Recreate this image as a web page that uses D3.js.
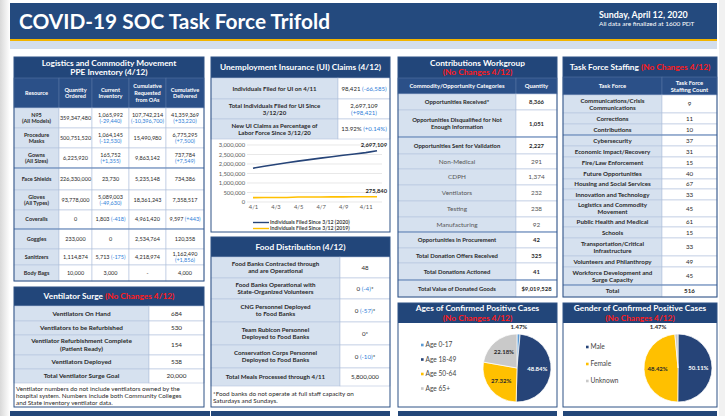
<!DOCTYPE html>
<html>
<head>
<meta charset="utf-8">
<script src="https://cdn.jsdelivr.net/npm/d3@7"></script>
<style>
  html, body { margin: 0; padding: 0; background: #fff; }
  svg { display: block; font-family: "Lato", "Open Sans", sans-serif; }
  text { white-space: pre; }
</style>
</head>
<body>
<svg id="board" width="725" height="416"></svg>
<script>
// ---- data ----
var ppeColumns = ["Resource", "Quantity\nOrdered", "Current\nInventory", "Cumulative\nRequested\nfrom OAs", "Cumulative\nDelivered"];
var ppeResources = ["N95\n(All Models)", "Procedure\nMasks", "Gowns\n(All Sizes)", "Face Shields", "Gloves\n(All Types)", "Coveralls", "Goggles", "Sanitizers", "Body Bags"];
var ppeOrdered = ["359,347,480", "500,751,520", "6,225,920", "226,330,000", "93,778,000", "0", "233,000", "1,114,874", "10,000"];
var ppeInventory = ["1,065,992", "1,064,145", "165,752", "23,730", "5,089,003", "1,803", "0", "5,713", "3,000"];
var ppeInventoryChange = ["(-29,440)", "(-12,530)", "(+1,355)", "", "(-49,630)", "(-418)", "", "(-175)", ""];
var ppeRequested = ["107,742,214", "15,490,980", "9,863,142", "5,235,148", "18,361,243", "4,961,420", "2,534,764", "4,218,974", "-"];
var ppeRequestedChange = ["(-10,396,700)", "", "", "", "", "", "", "", ""];
var ppeDelivered = ["41,359,369", "6,775,295", "737,784", "734,386", "7,358,517", "9,597", "120,358", "1,162,490", "4,000"];
var ppeDeliveredChange = ["(+33,220)", "(+7,500)", "(+7,549)", "", "", "(+443)", "", "(+1,856)", ""];

var ventLabels = ["Ventilators On Hand", "Ventilators to be Refurbished", "Ventilator Refurbishment Complete\n(Patient Ready)", "Ventilators Deployed", "Total Ventilator Surge Goal"];
var ventValues = ["684", "530", "154", "538", "20,000"];
var ventNote = ["Ventilator numbers do not include ventilators owned by the", "hospital system. Numbers include both Community Colleges", "and State inventory ventilator data."];

var uiLabels = ["Individuals Filed for UI on 4/11", "Total Individuals Filed for UI Since\n3/12/20", "New UI Claims as Percentage of\nLabor Force Since 3/12/20"];
var uiValues = ["98,421", "2,697,109", "13.92%"];
var uiChanges = ["(-66,585)", "(+98,421)", "(+0.14%)"];

var claimDays = ["4/1", "4/2", "4/3", "4/4", "4/5", "4/6", "4/7", "4/8", "4/9", "4/10", "4/11", "4/12"];
var claimTicks = ["4/1", "4/3", "4/5", "4/7", "4/9", "4/11"];
var claims2020 = [1780000, 1880000, 1975000, 2065000, 2150000, 2230000, 2310000, 2385000, 2460000, 2530000, 2598688, 2697109];
var claims2019 = [232000, 234000, 236000, 238000, 262000, 265000, 267000, 269000, 271000, 273000, 274500, 275840];
var claimSeries = ["Individuals Filed Since 3/12 (2020)", "Individuals Filed Since 3/12 (2019)"];
var claimAxis = [0, 500000, 1000000, 1500000, 2000000, 2500000, 3000000];

var foodLabels = ["Food Banks Contracted through\nand are Operational", "Food Banks Operational with\nState-Organized Volunteers", "CNG Personnel Deployed\nto Food Banks", "Team Rubicon Personnel\nDeployed to Food Banks", "Conservation Corps Personnel\nDeployed to Food Banks", "Total Meals Processed through 4/11"];
var foodValues = ["48", "0", "0", "0*", "0", "5,800,000"];
var foodChanges = ["", "(-4)", "(-57)", "", "(-10)", ""];
var foodNote = ["*Food banks do not operate at full staff capacity on", "Saturdays and Sundays."];

var contribCategories = ["Opportunities Received*", "Opportunities Disqualified for Not\nEnough Information", "Opportunities Sent for Validation", "Non-Medical", "CDPH", "Ventilators", "Testing", "Manufacturing", "Opportunities in Procurement", "Total Donation Offers Received", "Total Donations Actioned", "Total Value of Donated Goods"];
var contribQuantities = ["8,366", "1,051", "2,227", "291", "1,374", "232", "238", "92", "42", "325", "41", "$9,019,528"];

var taskForces = ["Communications/Crisis\nCommunications", "Corrections", "Contributions", "Cybersecurity", "Economic Impact/Recovery", "Fire/Law Enforcement", "Future Opportunities", "Housing and Social Services", "Innovation and Technology", "Logistics and Commodity\nMovement", "Public Health and Medical", "Schools", "Transportation/Critical\nInfrastructure", "Volunteers and Philanthropy", "Workforce Development and\nSurge Capacity", "Total"];
var staffCounts = ["9", "11", "10", "37", "31", "15", "40", "67", "33", "45", "61", "15", "33", "49", "45", "516"];

var ageGroups = ["Age 0-17", "Age 18-49", "Age 50-64", "Age 65+"];
var agePercents = [1.47, 48.84, 27.32, 22.18];
var genders = ["Male", "Female", "Unknown"];
var genderPercents = [50.11, 48.42, 1.47];

// ---- style ----
var NAVY = "#22467a", HEADROW = "#2b5088", LIGHT = "#d6e1ef", GRID = "#b4c4dc", SEP = "#5d80b3",
    INK = "#2a2a2a", CHG = "#2f80d8", RED = "#ff1a1a", GOLD = "#ffc000", DARKPIE = "#264478";
var TITLE = 8.3;

var svg = d3.select("#board");

// page shading and header
var defs = svg.append("defs");
var sh = defs.append("linearGradient").attr("id", "shadeL");
sh.append("stop").attr("offset", 0).attr("stop-color", "#d9d9d9");
sh.append("stop").attr("offset", 1).attr("stop-color", "#ffffff");
svg.append("rect").attr("x", 0).attr("y", 0).attr("width", 10).attr("height", 416).attr("fill", "url(#shadeL)");
svg.append("rect").attr("x", 719).attr("y", 0).attr("width", 6).attr("height", 416).attr("fill", "#f1f1f1");

svg.append("rect").attr("x", 10).attr("y", 3).attr("width", 707).attr("height", 36).attr("fill", "#244a7e");
svg.append("rect").attr("x", 10).attr("y", 39).attr("width", 707).attr("height", 2).attr("fill", "#f2b400");
svg.append("rect").attr("x", 10).attr("y", 41).attr("width", 707).attr("height", 8).attr("fill", "#d3deec");
svg.append("text").attr("x", 19).attr("y", 29).attr("fill", "#fff").attr("font-size", 20).attr("font-weight", "bold")
  .attr("textLength", 311).attr("lengthAdjust", "spacingAndGlyphs").text("COVID-19 SOC Task Force Trifold");
svg.append("text").attr("x", 599).attr("y", 18).attr("fill", "#fff").attr("font-size", 8.9).attr("font-weight", "bold")
  .text("Sunday, April 12, 2020");
svg.append("text").attr("x", 599).attr("y", 25.5).attr("fill", "#fff").attr("font-size", 6.5)
  .text("All data are finalized at 1600 PDT");

// ---- helpers ----
function cellLines(str, color) {
  return str.split("\n").map(function (s) { return [[s, color || INK]]; });
}
function valueLines(v, c, stack) {
  if (!c) return [[[v, INK]]];
  return stack ? [[[v, INK]], [[c, CHG]]] : [[[v + " ", INK], [c, CHG]]];
}
function writeLines(g, lines, cx, cy, size, weight, anchor) {
  var lh = size * 1.2, n = lines.length;
  lines.forEach(function (pieces, k) {
    var t = g.append("text")
      .attr("x", cx)
      .attr("y", cy + (k - (n - 1) / 2) * lh + size * 0.36)
      .attr("text-anchor", anchor || "middle")
      .attr("font-size", size)
      .attr("font-weight", weight || "normal");
    pieces.forEach(function (p) { t.append("tspan").attr("fill", p[1]).text(p[0]); });
  });
}
function drawTable(g, edges, top, heights, rows, seps, size) {
  var tops = [top].concat(Array.from(d3.cumsum(heights), function (h) { return top + h; }));
  g.selectAll(null).data(rows).enter().append("g").each(function (row, r) {
    var rg = d3.select(this);
    rg.selectAll("rect").data(row).enter().append("rect")
      .attr("x", function (c, i) { return edges[i]; })
      .attr("y", tops[r])
      .attr("width", function (c, i) { return edges[i + 1] - edges[i]; })
      .attr("height", heights[r])
      .attr("fill", function (c) { return c.fill; })
      .attr("stroke", function (c) { return c.stroke || GRID; })
      .attr("stroke-width", 0.6);
    row.forEach(function (c, i) {
      writeLines(rg, c.lines, (edges[i] + edges[i + 1]) / 2, tops[r] + heights[r] / 2, c.size || size, c.weight, null);
    });
  });
  g.selectAll(null).data(seps || []).enter().append("line")
    .attr("x1", edges[0]).attr("x2", edges[edges.length - 1])
    .attr("y1", function (r) { return tops[r + 1]; }).attr("y2", function (r) { return tops[r + 1]; })
    .attr("stroke", SEP).attr("stroke-width", 1.2);
  return tops[tops.length - 1];
}
function titleBar(g, x0, x1, y0, y1, lines) {
  g.append("rect").attr("x", x0).attr("y", y0).attr("width", x1 - x0).attr("height", y1 - y0).attr("fill", NAVY);
  writeLines(g, lines, (x0 + x1) / 2, (y0 + y1) / 2, TITLE, "bold", null);
}
function frame(g, x0, x1, y0, y1) {
  g.append("rect").attr("x", x0).attr("y", y0).attr("width", x1 - x0).attr("height", y1 - y0)
    .attr("fill", "none").attr("stroke", "#2f5286").attr("stroke-width", 1);
}
function headCell(s) { return { lines: cellLines(s, "#fff"), fill: HEADROW, weight: "bold", stroke: "#5574a3" }; }
function labelCell(s, weight) { return { lines: cellLines(s), fill: LIGHT, weight: weight || "bold" }; }
function valueCell(v, c, stack, weight) { return { lines: valueLines(v, c, stack), fill: "#fff", weight: weight }; }
function noteLines(g, lines, x, y0) {
  lines.forEach(function (s, i) {
    g.append("text").attr("x", x).attr("y", y0 + i * 7.2).attr("font-size", 6.3).attr("fill", INK).text(s);
  });
}
var inline = function (v, c) { return (v + " " + c).length <= 12; };

// ---- Logistics & PPE ----
var gA = svg.append("g");
titleBar(gA, 14, 204, 57, 78, [[["Logistics and Commodity Movement", "#fff"]], [["PPE Inventory (4/12)", "#fff"]]]);
var ppeEdges = [14, 59, 92, 129, 166, 204];
drawTable(gA, ppeEdges, 78, [30], [ppeColumns.map(headCell)], [], 5.6);
var ppeRows = ppeResources.map(function (res, r) {
  return [
    labelCell(res),
    valueCell(ppeOrdered[r]),
    valueCell(ppeInventory[r], ppeInventoryChange[r], !inline(ppeInventory[r], ppeInventoryChange[r])),
    valueCell(ppeRequested[r], ppeRequestedChange[r], !inline(ppeRequested[r], ppeRequestedChange[r])),
    valueCell(ppeDelivered[r], ppeDeliveredChange[r], !inline(ppeDelivered[r], ppeDeliveredChange[r]))
  ];
});
drawTable(gA, ppeEdges, 108, [20, 20, 20, 22, 20, 19, 20, 16, 16], ppeRows, [2, 5], 5.5);
frame(gA, 14, 204, 57, 281);

// ---- Ventilator surge ----
var gV = svg.append("g");
titleBar(gV, 14, 204, 287, 306, [[["Ventilator Surge ", "#fff"], ["(No Changes 4/12)", RED]]]);
drawTable(gV, [14, 149, 204], 306, [15, 14, 20, 14, 14], ventLabels.map(function (l, i) {
  return [labelCell(l), valueCell(ventValues[i])];
}), [], 6.4);
noteLines(gV, ventNote, 16, 391);
frame(gV, 14, 204, 287, 407);

// ---- UI claims ----
var gU = svg.append("g");
titleBar(gU, 211, 390, 57, 78, [[["Unemployment Insurance (UI) Claims (4/12)", "#fff"]]]);
var uiStack = [false, true, false];
drawTable(gU, [211, 338, 390], 78, [21, 20, 20], uiLabels.map(function (l, i) {
  return [labelCell(l), valueCell(uiValues[i], uiChanges[i], uiStack[i])];
}), [], 6.1);

var xDay = d3.scalePoint().domain(claimDays).range([253, 377]);
var yClaims = d3.scaleLinear().domain([0, 3000000]).range([202, 145]);

gU.append("g").selectAll("line").data(claimAxis).enter().append("line")
  .attr("x1", 247).attr("x2", 382)
  .attr("y1", function (d) { return yClaims(d); }).attr("y2", function (d) { return yClaims(d); })
  .attr("stroke", "#d9d9d9").attr("stroke-width", 0.6);

var yAxisG = gU.append("g").attr("transform", "translate(246,0)")
  .call(d3.axisLeft(yClaims).tickValues(claimAxis).tickSize(0).tickPadding(1).tickFormat(d3.format(",")));
yAxisG.select(".domain").remove();
yAxisG.selectAll("text").attr("font-size", 5.8).attr("fill", "#595959").attr("font-family", "Lato, sans-serif");

var xAxisG = gU.append("g").attr("transform", "translate(0,205)")
  .call(d3.axisBottom(xDay).tickValues(claimTicks).tickSize(0).tickPadding(0));
xAxisG.select(".domain").remove();
xAxisG.selectAll("text").attr("font-size", 5.8).attr("fill", "#595959").attr("font-family", "Lato, sans-serif");

var claimLine = d3.line().x(function (d, i) { return xDay(claimDays[i]); }).y(function (d) { return yClaims(d); });
var seriesColors = [DARKPIE, GOLD];
[claims2020, claims2019].forEach(function (s, k) {
  gU.append("path").datum(s).attr("d", claimLine).attr("fill", "none")
    .attr("stroke", seriesColors[k]).attr("stroke-width", 1.6);
  gU.append("text")
    .attr("x", xDay(claimDays[claimDays.length - 1]) + 10)
    .attr("y", yClaims(s[s.length - 1]) - 4)
    .attr("text-anchor", "end").attr("font-size", 5.8).attr("font-weight", "bold").attr("fill", INK)
    .text(d3.format(",")(s[s.length - 1]));
});
claimSeries.forEach(function (name, k) {
  var ly = 222.5 + k * 6;
  gU.append("line").attr("x1", 253).attr("x2", 269).attr("y1", ly).attr("y2", ly)
    .attr("stroke", seriesColors[k]).attr("stroke-width", 1.4);
  gU.append("text").attr("x", 270).attr("y", ly + 1.8).attr("font-size", 5.2).attr("font-weight", "bold")
    .attr("fill", "#404040").text(name);
});
frame(gU, 211, 390, 57, 232);

// ---- Food distribution ----
var gF = svg.append("g");
titleBar(gF, 211, 390, 237, 257, [[["Food Distribution (4/12)", "#fff"]]]);
drawTable(gF, [211, 340, 390], 257, [21, 21, 23, 23, 23, 18], foodLabels.map(function (l, i) {
  var cell = valueCell(foodValues[i], foodChanges[i], false);
  if (foodChanges[i]) cell.lines[0].push(["*", INK]);
  return [labelCell(l), cell];
}), [], 6.2);
noteLines(gF, foodNote, 213, 396);
frame(gF, 211, 390, 237, 407);

// ---- Contributions ----
var gC = svg.append("g");
titleBar(gC, 398, 557, 57, 78, [[["Contributions Workgroup", "#fff"]], [["(No Changes 4/12)", RED]]]);
var cEdges = [398, 516, 557];
drawTable(gC, cEdges, 78, [16], [[headCell("Commodity/Opportunity Categories"), headCell("Quantity")]], [], 5.9);
var subRows = [3, 4, 5, 6, 7];
drawTable(gC, cEdges, 94, [16, 27, 17, 15, 16, 16, 16, 15, 16, 15, 17, 17], contribCategories.map(function (l, i) {
  var sub = subRows.indexOf(i) >= 0;
  var lab = { lines: cellLines(l, sub ? "#555" : INK), fill: LIGHT, weight: sub ? "normal" : "bold", size: sub ? 6.4 : null };
  var val = { lines: cellLines(contribQuantities[i], sub ? "#555" : INK), fill: "#fff", weight: sub ? "normal" : "bold", size: sub ? 6.4 : null };
  return [lab, val];
}), [1, 7, 10], 5.9);
frame(gC, 398, 557, 57, 297);

// ---- Task force staffing ----
var gT = svg.append("g");
titleBar(gT, 563, 717, 57, 77, [[["Task Force Staffing ", "#fff"], ["(No Changes 4/12)", RED]]]);
var tEdges = [563, 662, 717];
drawTable(gT, tEdges, 77, [18], [[headCell("Task Force"), headCell("Task Force\nStaffing Count")]], [], 5.9);
var lastRow = taskForces.length - 1;
drawTable(gT, tEdges, 95, [18, 11, 11, 11, 11, 11, 11, 10, 11, 17, 10, 11, 18, 11, 18, 12], taskForces.map(function (l, i) {
  return [labelCell(l), valueCell(staffCounts[i], "", false, i === lastRow ? "bold" : "normal")];
}), [2, 14], 6.2);
frame(gT, 563, 717, 57, 297);

// ---- pies ----
function piePanel(x0, x1, title, names, values, colors, legend, center, outDx) {
  var g = svg.append("g");
  g.append("rect").attr("x", x0).attr("y", 303).attr("width", x1 - x0).attr("height", 104).attr("fill", "#fff");
  titleBar(g, x0, x1, 303, 323, [[[title, "#fff"]], [["(No Changes 4/12)", RED]]]);
  var r = 34;
  var arcs = d3.pie().sort(null)(values);
  var arc = d3.arc().innerRadius(0).outerRadius(r);
  var pg = g.append("g").attr("transform", "translate(" + center[0] + "," + center[1] + ")");
  pg.selectAll("path").data(arcs).enter().append("path")
    .attr("d", arc).attr("fill", function (d, i) { return colors[i]; })
    .attr("stroke", "#fff").attr("stroke-width", 0.7);
  var inner = d3.arc().innerRadius(r * 0.6).outerRadius(r * 0.6);
  var outer = d3.arc().innerRadius(r * 1.2).outerRadius(r * 1.2);
  pg.selectAll("text").data(arcs).enter().append("text")
    .attr("transform", function (d) {
      var big = d.data > 5;
      var p = big ? inner.centroid(d) : outer.centroid(d);
      return "translate(" + (big ? p[0] : p[0] + outDx) + "," + (p[1] + 2) + ")";
    })
    .attr("text-anchor", "middle").attr("font-size", 6).attr("font-weight", "bold")
    .attr("fill", function (d, i) { return colors[i] === DARKPIE ? "#fff" : INK; })
    .text(function (d) { return d3.format(".2f")(d.data) + "%"; });
  names.forEach(function (n, i) {
    var ly = legend[1] + i * legend[2];
    g.append("rect").attr("x", legend[0]).attr("y", ly - 1.3).attr("width", 2.6).attr("height", 2.6).attr("fill", colors[i]);
    g.append("text").attr("x", legend[0] + 4.5).attr("y", ly + 2.2).attr("font-size", 6.6).attr("fill", "#444").text(n);
  });
  frame(g, x0, x1, 303, 407);
}
piePanel(398, 557, "Ages of Confirmed Positive Cases", ageGroups, agePercents,
  ["#5b9bd5", DARKPIE, GOLD, "#c9c9c9"], [421, 345, 14.5], [517, 368], 0);
piePanel(563, 717, "Gender of Confirmed Positive Cases", genders, genderPercents,
  [DARKPIE, GOLD, "#c9c9c9"], [586, 347, 17], [678, 368], -18);

// bottom bars of the next page rows
var bottomBars = [[10, 210], [211, 390], [398, 557], [563, 717]];
svg.selectAll("rect.foot").data(bottomBars).enter().append("rect").attr("class", "foot")
  .attr("x", function (d) { return d[0]; }).attr("y", 411)
  .attr("width", function (d) { return d[1] - d[0]; }).attr("height", 5).attr("fill", "#234779");
</script>
</body>
</html>
